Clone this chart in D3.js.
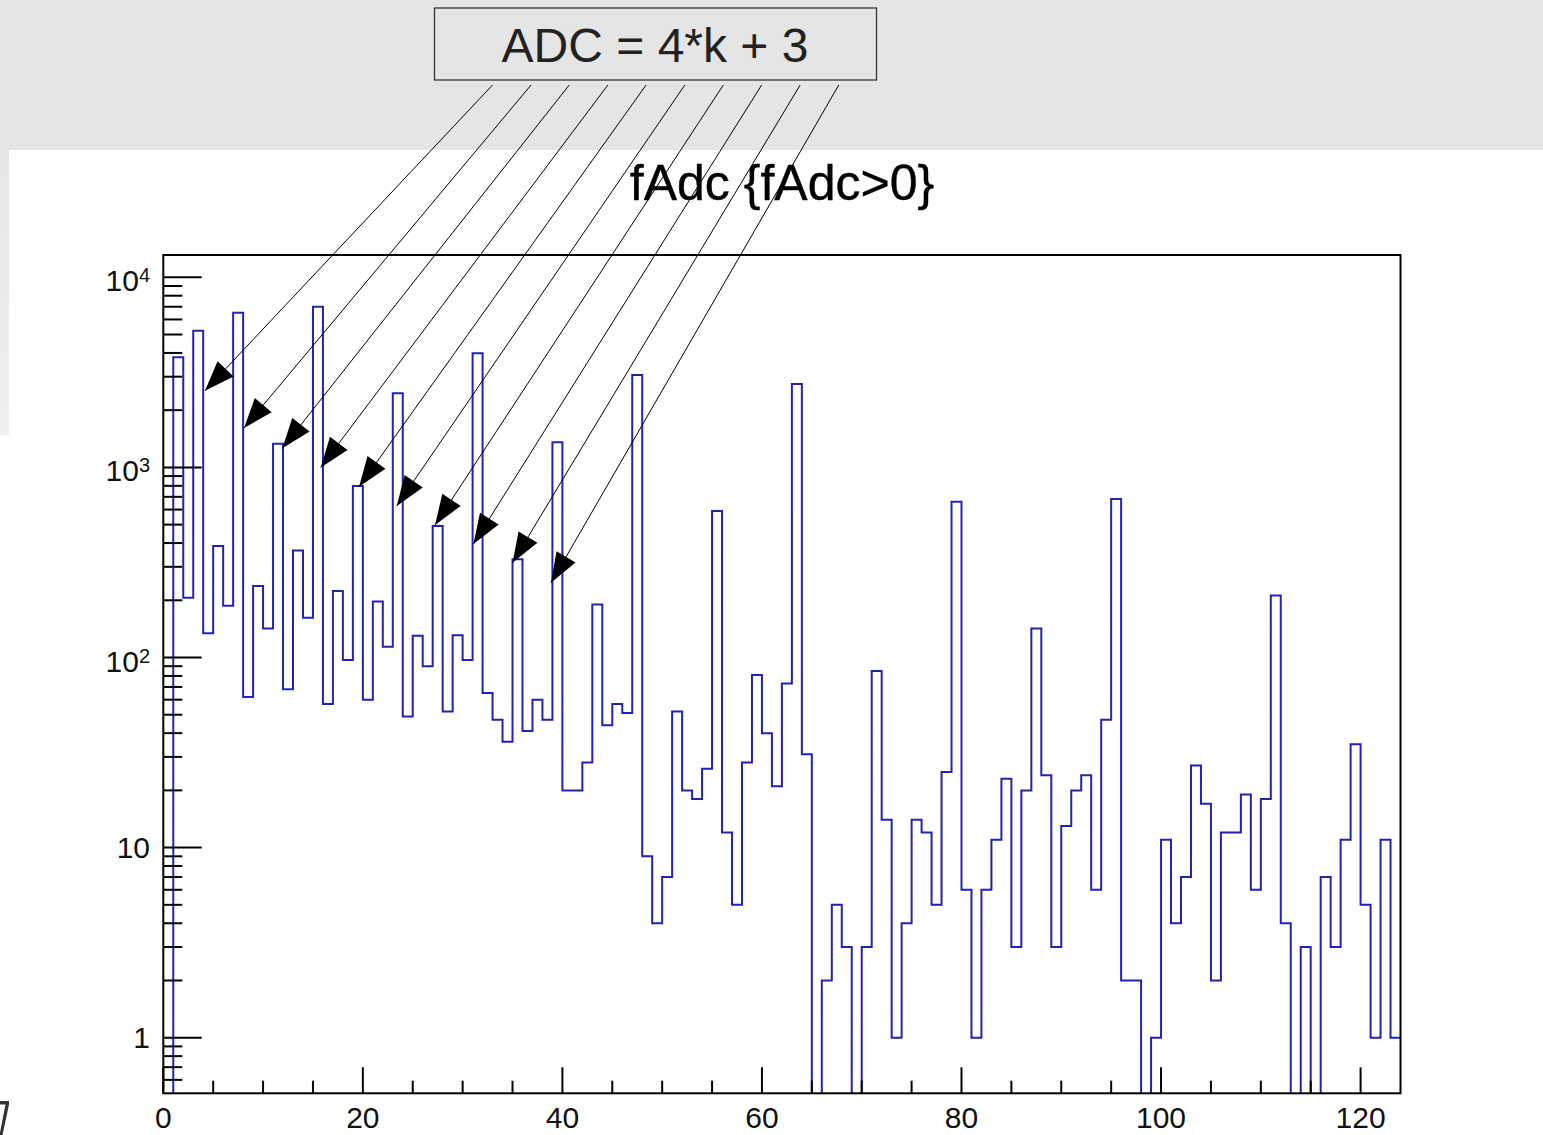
<!DOCTYPE html>
<html><head><meta charset="utf-8">
<script src="https://cdn.jsdelivr.net/npm/d3@7"></script>
<style>body{margin:0;background:#fff;overflow:hidden}svg{display:block}</style>
</head><body>
<script>
// ---- data ----
const adcBins = [1,2,3,4,5,6,7,8,9,10,11,12,13,14,15,16,17,18,19,20,21,22,23,24,25,26,27,28,29,30,
  31,32,33,34,35,36,37,38,39,40,41,42,43,44,45,46,47,48,49,50,51,52,53,54,55,56,57,58,59,60,
  61,62,63,64,65,66,67,68,69,70,71,72,73,74,75,76,77,78,79,80,81,82,83,84,85,86,87,88,89,90,
  91,92,93,94,95,96,97,98,99,100,101,102,103,104,105,106,107,108,109,110,111,112,113,114,115,116,117,118,119,120,
  121,122,123];
const counts = [3800,206,5240,134,386,187,6510,62,238,142,1330,68,365,162,7000,57,224,97,798,60,
  197,114,2455,49,130,90,492,52,131,97,3985,65,47,36,329,41,60,47,1356,20,
  20,28,190,44,57,51,3063,9,4,7,52,20,18,26,590,12,5,28,81,40,
  21,73,2748,31,0,2,5,3,0,3,85,14,1,4,14,12,5,25,659,6,
  1,6,11,23,3,20,142,24,3,13,20,24,6,47,682,2,2,0,1,11,
  4,7,27,17,2,12,12,19,6,18,212,4,0,3,0,7,3,11,35,5,
  1,11,1];
const xTickLabels = ["0","20","40","60","80","100","120"];
const xTickValues = [0,20,40,60,80,100,120];
const yDecades = [1,10,100,1000,10000];
const yDecadeBase = ["1","10","10","10","10"];
const yDecadeExp = ["","","2","3","4"];
// arrows annotation (ADC = 4k+3), in data units
const arrowTipX = [4.18,8.09,11.93,15.78,19.62,23.4,27.24,31.08,35.0,38.86];
const arrowTipY = [2530,1610,1260,1000,790,627,498,395,315,247];
const arrowStartX = [33.0,36.86,40.69,44.56,48.39,52.27,56.13,59.97,63.83,67.7];
const arrowStartY = [102700,102700,102700,102700,102700,102700,102700,102700,102700,102700];
const titleText = "fAdc {fAdc>0}";
const boxText = "ADC = 4*k + 3";
const xDomain = [0,124];
const yDomain = [0.51,13100];

// ---- layout ----
const W = 1543, H = 1135;
const F = {l:163.3, r:1400.5, t:255, b:1093.3};
const font = "'Liberation Sans', Arial, Helvetica, sans-serif";
const blue = "#2222b4";

const svg = d3.select("body").append("svg").attr("width",W).attr("height",H);
const defs = svg.append("defs");
const grad = defs.append("linearGradient").attr("id","lg").attr("x1",0).attr("y1",0).attr("x2",0).attr("y2",1);
grad.append("stop").attr("offset","0%").attr("stop-color","#e6e6e6");
grad.append("stop").attr("offset","100%").attr("stop-color","#f0f0f0");
defs.append("clipPath").attr("id","fc").append("rect")
  .attr("x",F.l).attr("y",F.t).attr("width",F.r-F.l).attr("height",F.b-F.t);

svg.append("rect").attr("width",W).attr("height",H).attr("fill","#fff");
svg.append("rect").attr("x",0).attr("y",0).attr("width",W).attr("height",150).attr("fill","#e5e5e5");
svg.append("rect").attr("x",0).attr("y",150).attr("width",9).attr("height",285).attr("fill","url(#lg)");

const x = d3.scaleLinear().domain(xDomain).range([F.l,F.r]);
const y = d3.scaleLog().domain(yDomain).range([F.b,F.t]);

// histogram step path
const pts = [[x(0),F.b+2],[x(adcBins[0]),F.b+2]];
adcBins.forEach((b,i)=>{
  const v = counts[i];
  const yy = v>0 ? y(v) : F.b+2;
  pts.push([x(b),yy]); pts.push([x(b+1),yy]);
});
svg.append("path").attr("clip-path","url(#fc)")
  .attr("d",d3.line()(pts)).attr("fill","none").attr("stroke",blue).attr("stroke-width",2);

// x ticks
const ax = svg.append("g").attr("stroke","#000").attr("stroke-width",2);
const xt = d3.range(0,125,5);
xt.forEach(v=>{
  const major = xTickValues.includes(v);
  ax.append("line").attr("x1",x(v)).attr("x2",x(v)).attr("y1",F.b).attr("y2",F.b-(major?26:12.6));
});
// y ticks (log)
const yt = [];
[-1,0,1,2,3,4].forEach(e=>{for(let m=1;m<10;m++){const v=m*Math.pow(10,e); if(v>=yDomain[0]&&v<=yDomain[1]) yt.push({v,major:m===1});}});
yt.forEach(t=>{
  ax.append("line").attr("x1",F.l).attr("x2",F.l+(t.major?38.4:19)).attr("y1",y(t.v)).attr("y2",y(t.v));
});
// frame
svg.append("rect").attr("x",F.l).attr("y",F.t).attr("width",F.r-F.l).attr("height",F.b-F.t)
  .attr("fill","none").attr("stroke","#000").attr("stroke-width",2);

// x labels
xTickValues.forEach((v,i)=>{
  svg.append("text").attr("x",x(v)).attr("y",1128).attr("text-anchor","middle")
    .attr("font-family",font).attr("font-size",30).attr("fill","#111").text(xTickLabels[i]);
});
// y labels
yDecades.forEach((v,i)=>{
  const t = svg.append("text").attr("font-family",font).attr("font-size",30).attr("fill","#111")
    .attr("text-anchor","end");
  if(yDecadeExp[i]){
    t.attr("x",150).attr("y",y(v)+14);
    t.append("tspan").text(yDecadeBase[i]);
    t.append("tspan").attr("font-size",20).attr("dy",-9).text(yDecadeExp[i]);
  } else {
    t.attr("x",150).attr("y",y(v)+10).text(yDecadeBase[i]);
  }
});

// title
svg.append("text").attr("x",782).attr("y",200).attr("text-anchor","middle")
  .attr("font-family",font).attr("font-size",50).attr("fill","#000")
  .attr("stroke","#000").attr("stroke-width",0.4).text(titleText);

// label box
svg.append("rect").attr("x",434.5).attr("y",8).attr("width",442).attr("height",72)
  .attr("fill","#e5e5e5").attr("stroke","#333").attr("stroke-width",1.3);
svg.append("text").attr("x",655).attr("y",62).attr("text-anchor","middle")
  .attr("font-family",font).attr("font-size",48).attr("fill","#222").text(boxText);

// arrows
const ag = svg.append("g");
arrowTipX.forEach((tx,i)=>{
  const x1=x(arrowStartX[i]), y1=y(arrowStartY[i]), x2=x(tx), y2=y(arrowTipY[i]);
  ag.append("line").attr("x1",x1).attr("y1",y1).attr("x2",x2).attr("y2",y2)
    .attr("stroke","#000").attr("stroke-width",1);
  const dx=x1-x2, dy=y1-y2, L=Math.hypot(dx,dy), ux=dx/L, uy=dy/L;
  const len=30, hw=11;
  const bx=x2+ux*len, by=y2+uy*len;
  const p=[[x2,y2],[bx-uy*hw,by+ux*hw],[bx+uy*hw,by-ux*hw]];
  ag.append("path").attr("d","M"+p.map(q=>q.join(",")).join("L")+"Z").attr("fill","#000");
});

// stray cropped glyph fragment at the bottom-left edge (a shape, as in the screenshot)
svg.append("path").attr("d","M0,1101 L9,1101 L9,1104.5 L2.5,1135 L-0.5,1135 L5.5,1104.5 L0,1104.5 Z")
  .attr("fill","#333");
</script>
</body></html>
